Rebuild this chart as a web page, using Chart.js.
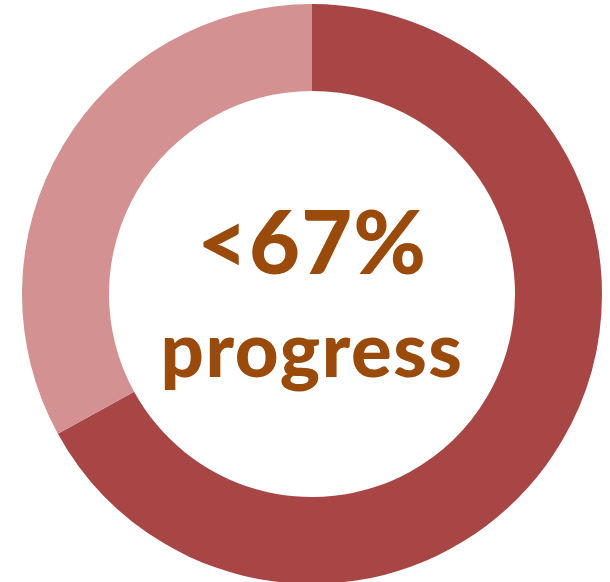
<!DOCTYPE html>
<html>
<head>
<meta charset="utf-8">
<script src="https://cdn.jsdelivr.net/npm/chart.js@4"></script>
<style>
  html, body { margin: 0; padding: 0; background: #fff; }
  body { width: 610px; height: 582px; position: relative; overflow: hidden; }
  #wrap { position: absolute; left: 22px; top: 4px; width: 580px; height: 580px; }
  #cut { position: absolute; left: 532px; top: -44px; font: 40px 'Liberation Sans', sans-serif; color: #000; }
</style>
</head>
<body>
<div id="cut">y</div>
<div id="wrap"><canvas id="donut"></canvas></div>
<script>
const labels = ['Progress', 'Remaining'];
const values = [67, 33];
const colors = ['#A84646', '#D39191'];
const centerLines = ['<67%', 'progress'];

// text in the hole, fitted to the reference widths
const centerText = {
    id: 'centerText',
    afterDraw(chart) {
        const { ctx } = chart;
        const cx = (chart.chartArea.left + chart.chartArea.right) / 2;
        ctx.save();
        ctx.fillStyle = '#9A4A0B';
        ctx.textAlign = 'center';
        ctx.textBaseline = 'alphabetic';
        ctx.font = '900 88px Lato, "DejaVu Sans", sans-serif';
        ctx.letterSpacing = '1px';
        ctx.fillText(centerLines[0], cx, 274 - 4);
        ctx.font = '900 76px Lato, "DejaVu Sans", sans-serif';
        ctx.letterSpacing = '1.5px';
        ctx.fillText(centerLines[1], cx, 377 - 4);
        ctx.restore();
    }
};

new Chart(document.getElementById('donut').getContext('2d'), {
    type: 'doughnut',
    data: {
        labels: labels,
        datasets: [{
            data: values,
            backgroundColor: colors,
            borderWidth: 0
        }]
    },
    options: {
        responsive: true,
        maintainAspectRatio: false,
        animation: false,
        cutout: '70%',
        layout: { padding: 0 },
        plugins: { legend: { display: false }, tooltip: { enabled: false } }
    },
    plugins: [centerText]
});
</script>
</body>
</html>
